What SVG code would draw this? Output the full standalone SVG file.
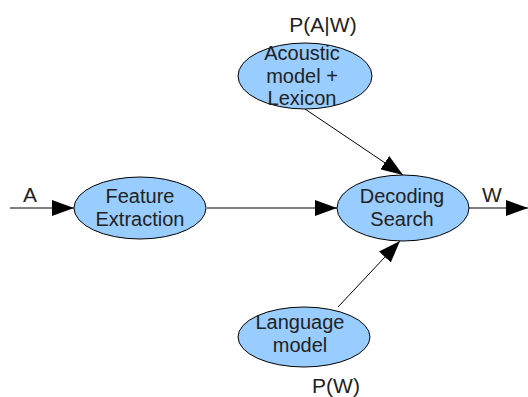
<svg xmlns="http://www.w3.org/2000/svg" width="528" height="397" viewBox="0 0 528 397">
<defs>
<marker id="ah" markerWidth="22" markerHeight="16" refX="22" refY="8" orient="auto" markerUnits="userSpaceOnUse">
<path d="M0,0 L22,8 L0,16 Z" fill="#000"/>
</marker>
<style>
.n{fill:#99ccff;stroke:#000;stroke-width:1}
.t{font-family:"Liberation Sans",Arial,sans-serif;font-size:20px;fill:#222;text-anchor:middle}
.l{font-size:21px}
.e{stroke:#000;stroke-width:1;fill:none;marker-end:url(#ah)}
</style>
</defs>
<rect width="528" height="397" fill="#fff"/>
<g id="connectors">
<line class="e" x1="10" y1="208" x2="74" y2="208"/>
<line class="e" x1="207" y1="208" x2="337" y2="208"/>
<line class="e" x1="469" y1="208" x2="528" y2="208"/>
<line class="e" x1="305" y1="109" x2="403" y2="175"/>
<line class="e" x1="338" y1="307" x2="400" y2="241"/>
</g>
<g id="feature">
<ellipse class="n" cx="140" cy="208" rx="66" ry="31"/>
<text class="t" x="140" y="203">Feature</text>
<text class="t" x="140" y="226">Extraction</text>
</g>
<g id="decoding">
<ellipse class="n" cx="403" cy="208" rx="66" ry="33"/>
<text class="t" x="402" y="203">Decoding</text>
<text class="t" x="402" y="226">Search</text>
</g>
<g id="acoustic">
<ellipse class="n" cx="305" cy="76" rx="67" ry="33"/>
<text class="t" x="302" y="60">Acoustic</text>
<text class="t" x="302" y="83">model +</text>
<text class="t" x="302" y="105">Lexicon</text>
</g>
<g id="language">
<ellipse class="n" cx="304" cy="337" rx="66" ry="30"/>
<text class="t" x="300" y="329">Language</text>
<text class="t" x="300" y="352">model</text>
</g>
<g id="labels">
<text class="t l" x="30" y="202">A</text>
<text class="t l" x="492" y="202">W</text>
<text class="t l" x="323" y="32">P(A|W)</text>
<text class="t l" x="336" y="393">P(W)</text>
</g>
</svg>
